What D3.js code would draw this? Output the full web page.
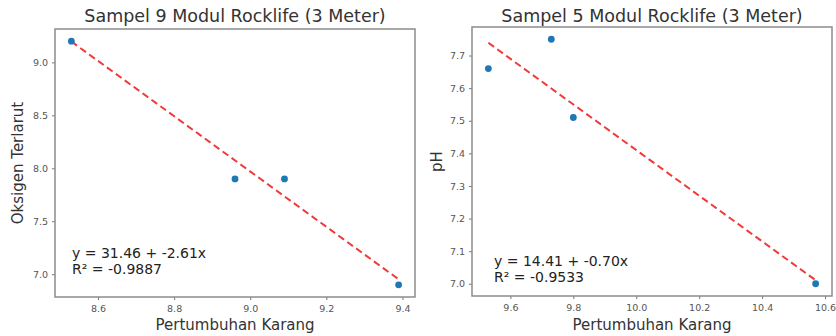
<!DOCTYPE html>
<html>
<head>
<meta charset="utf-8">
<script src="https://cdn.jsdelivr.net/npm/d3@7"></script>
<style>
  body { margin: 0; background: #fff; }
  svg { display: block; font-family: 'DejaVu Sans', sans-serif; }
</style>
</head>
<body>
<svg id="chart" width="836" height="336"></svg>
<script>
// panel 1: Sampel 9
const growth9 = [8.53, 8.96, 9.09, 9.39]
const oxygen9 = [9.2, 7.9, 7.9, 6.9]
const xTicks9 = [8.6, 8.8, 9.0, 9.2, 9.4]
const yTicks9 = [7.0, 7.5, 8.0, 8.5, 9.0]
const fit9 = [31.46, -2.61]
const r9 = -0.9887

// panel 2: Sampel 5
const growth5 = [9.53, 9.73, 9.80, 10.57]
const ph5 = [7.66, 7.75, 7.51, 7.0]
const xTicks5 = [9.6, 9.8, 10.0, 10.2, 10.4, 10.6]
const yTicks5 = [7.0, 7.1, 7.2, 7.3, 7.4, 7.5, 7.6, 7.7]
const fit5 = [14.41, -0.70]
const r5 = -0.9533

const panels = [
  {title: 'Sampel 9 Modul Rocklife (3 Meter)', ylabel: 'Oksigen Terlarut',
   xs: growth9, ys: oxygen9, xTicks: xTicks9, yTicks: yTicks9, fit: fit9, r: r9,
   box: {left: 55, right: 415, top: 29, bottom: 297}, ylabelX: 23, textAt: [72, 258]},
  {title: 'Sampel 5 Modul Rocklife (3 Meter)', ylabel: 'pH',
   xs: growth5, ys: ph5, xTicks: xTicks5, yTicks: yTicks5, fit: fit5, r: r5,
   box: {left: 472, right: 832, top: 27, bottom: 296}, ylabelX: 442, textAt: [494, 266]}
]

const svg = d3.select('#chart')

// matplotlib style 5% margins around the data
function padded(vals) {
  const [lo, hi] = d3.extent(vals)
  const m = (hi - lo) * 0.05
  return [lo - m, hi + m]
}

panels.forEach(p => {
  const {box} = p
  const x = d3.scaleLinear().domain(padded(p.xs)).range([box.left, box.right])
  const y = d3.scaleLinear().domain(padded(p.ys)).range([box.bottom, box.top])
  const g = svg.append('g')

  g.append('g')
    .attr('transform', `translate(0,${box.bottom})`)
    .call(d3.axisBottom(x).tickValues(p.xTicks).tickFormat(d3.format('.1f')).tickSize(3).tickPadding(5))
    .call(a => a.select('.domain').remove())
    .call(a => a.selectAll('line').attr('stroke', '#777'))
    .call(a => a.selectAll('text').attr('font-size', 9.5).attr('fill', '#555').attr('font-family', 'DejaVu Sans'))

  g.append('g')
    .attr('transform', `translate(${box.left},0)`)
    .call(d3.axisLeft(y).tickValues(p.yTicks).tickFormat(d3.format('.1f')).tickSize(3).tickPadding(4))
    .call(a => a.select('.domain').remove())
    .call(a => a.selectAll('line').attr('stroke', '#777'))
    .call(a => a.selectAll('text').attr('font-size', 9.5).attr('fill', '#555').attr('font-family', 'DejaVu Sans'))

  g.append('rect')
    .attr('x', box.left).attr('y', box.top)
    .attr('width', box.right - box.left).attr('height', box.bottom - box.top)
    .attr('fill', 'none').attr('stroke', '#8c8c8c').attr('stroke-width', 1.5)

  // regression line
  const [a, b] = p.fit
  const ends = d3.extent(p.xs)
  g.append('path')
    .datum(ends)
    .attr('fill', 'none')
    .attr('stroke', '#f03a3a')
    .attr('stroke-width', 2)
    .attr('stroke-dasharray', '7,4')
    .attr('d', d3.line().x(d => x(d)).y(d => y(a + b * d)))

  g.selectAll('circle')
    .data(p.xs.map((v, i) => [v, p.ys[i]]))
    .join('circle')
    .attr('cx', d => x(d[0]))
    .attr('cy', d => y(d[1]))
    .attr('r', 3.4)
    .attr('fill', '#1f77b4')

  g.append('text')
    .attr('x', (box.left + box.right) / 2).attr('y', 22)
    .attr('text-anchor', 'middle').attr('font-size', 17.5).attr('fill', '#333')
    .text(p.title)

  g.append('text')
    .attr('x', (box.left + box.right) / 2).attr('y', 330)
    .attr('text-anchor', 'middle').attr('font-size', 15).attr('fill', '#333')
    .text('Pertumbuhan Karang')

  g.append('text')
    .attr('transform', `translate(${p.ylabelX},${(box.top + box.bottom) / 2}) rotate(-90)`)
    .attr('text-anchor', 'middle').attr('font-size', 15).attr('fill', '#333')
    .text(p.ylabel)

  const sign = v => v.toFixed(2)
  g.append('text')
    .attr('x', p.textAt[0]).attr('y', p.textAt[1])
    .attr('font-size', 14).attr('fill', '#222')
    .text(`y = ${sign(a)} + ${sign(b)}x`)
  g.append('text')
    .attr('x', p.textAt[0]).attr('y', p.textAt[1] + 16)
    .attr('font-size', 14).attr('fill', '#222')
    .text(`R² = ${p.r.toFixed(4)}`)
})
</script>
</body>
</html>
